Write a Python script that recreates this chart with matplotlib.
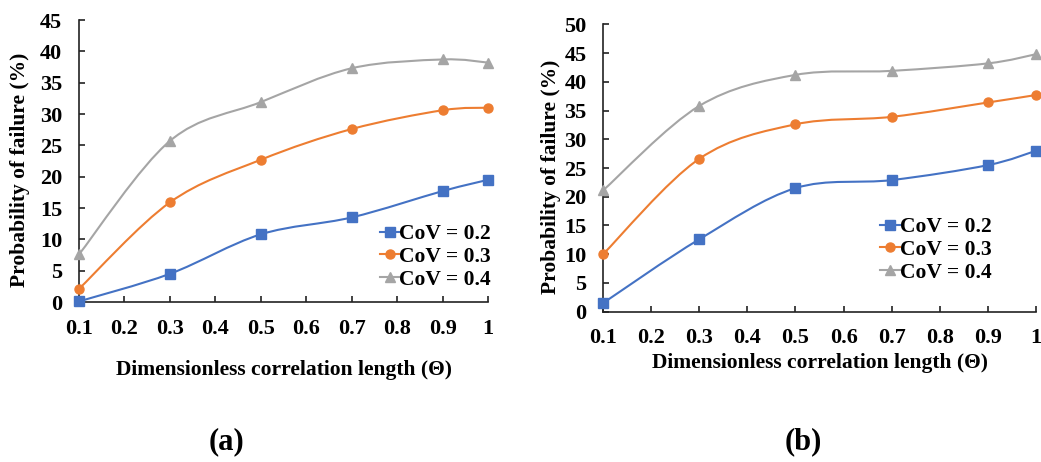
import matplotlib
matplotlib.use("Agg")
import matplotlib.pyplot as plt
from matplotlib.path import Path
from matplotlib.patches import PathPatch
from matplotlib.lines import Line2D

plt.rcParams["font.family"] = ["Liberation Serif", "DejaVu Serif"]
plt.rcParams["font.weight"] = "bold"

# Dimensionless correlation length values
theta = [0.1, 0.3, 0.5, 0.7, 0.9, 1.0]
xticks = [0.1, 0.2, 0.3, 0.4, 0.5, 0.6, 0.7, 0.8, 0.9, 1.0]
xticklabels = ["0.1", "0.2", "0.3", "0.4", "0.5", "0.6", "0.7", "0.8", "0.9", "1"]

# Probability of failure (%) – panel (a)
pf_a_cov02 = [0.1, 4.5, 10.8, 13.5, 17.7, 19.5]
pf_a_cov03 = [2.1, 15.9, 22.7, 27.6, 30.6, 31.0]
pf_a_cov04 = [7.6, 25.7, 31.9, 37.3, 38.7, 38.2]

# Probability of failure (%) – panel (b)
pf_b_cov02 = [1.5, 12.6, 21.5, 22.9, 25.5, 28.0]
pf_b_cov03 = [10.0, 26.6, 32.6, 33.9, 36.4, 37.7]
pf_b_cov04 = [21.1, 35.8, 41.2, 41.9, 43.2, 44.8]

labels = ["CoV = 0.2", "CoV = 0.3", "CoV = 0.4"]
colors = ["#4472C4", "#ED7D31", "#A5A5A5"]
markers = ["s", "o", "^"]


def smooth_path(xs, ys):
    """Cubic Bezier path through the points (spreadsheet-style smoothed line)."""
    pts = list(zip(xs, ys))
    n = len(pts)
    verts = [pts[0]]
    codes = [Path.MOVETO]
    for i in range(n - 1):
        p0 = pts[i - 1] if i > 0 else pts[i]
        p1 = pts[i]
        p2 = pts[i + 1]
        p3 = pts[i + 2] if i + 2 < n else pts[i + 1]
        c1 = (p1[0] + (p2[0] - p0[0]) / 6.0, p1[1] + (p2[1] - p0[1]) / 6.0)
        c2 = (p2[0] - (p3[0] - p1[0]) / 6.0, p2[1] - (p3[1] - p1[1]) / 6.0)
        verts += [c1, c2, p2]
        codes += [Path.CURVE4] * 3
    return Path(verts, codes)


def draw_panel(ax, series, ymax, legend_anchor, xlabel_pos, ylabel_pos):
    handles = []
    for ys, lab, col, mk in zip(series, labels, colors, markers):
        ms = 6.5 if mk != "^" else 7
        patch = PathPatch(smooth_path(theta, ys), facecolor="none",
                          edgecolor=col, lw=1.5, clip_on=False, zorder=3)
        ax.add_patch(patch)
        ax.plot(theta, ys, linestyle="none", marker=mk, ms=ms,
                color=col, clip_on=False, zorder=4)
        handles.append(Line2D([], [], color=col, lw=1.5, marker=mk,
                              ms=ms, label=lab))
    ax.set_xlim(0.1, 1.0)
    ax.set_ylim(0, ymax)
    ax.set_xticks(xticks)
    ax.set_xticklabels(xticklabels)
    ax.set_yticks(range(0, ymax + 1, 5))
    for s in ("top", "right"):
        ax.spines[s].set_visible(False)
    for s in ("left", "bottom"):
        ax.spines[s].set_linewidth(1.2)
        ax.spines[s].set_color("#222222")
    ax.tick_params(direction="in", length=4, width=1.2, color="#222222",
                   labelsize=16)
    ax.tick_params(axis="y", pad=12)
    ax.tick_params(axis="x", pad=12)
    ax.set_ylabel("Probability of failure (%)", fontsize=15.5,
                  fontweight="bold")
    ax.set_xlabel("Dimensionless correlation length (\u0398)", fontsize=15.5,
                  fontweight="bold")
    ax.xaxis.label.set_va("center")
    ax.yaxis.label.set_va("center")
    ax.xaxis.set_label_coords(*xlabel_pos)
    ax.yaxis.set_label_coords(*ylabel_pos)
    ax.legend(handles=handles, loc="center left",
              bbox_to_anchor=legend_anchor, frameon=False,
              fontsize=15.5, handlelength=0.9, handletextpad=0.0,
              labelspacing=0.12, borderpad=0, borderaxespad=0)


fig = plt.figure(figsize=(10.41, 4.62), dpi=100)
ax_a = fig.add_axes([0.0759, 0.3463, 0.3929, 0.6104])
ax_b = fig.add_axes([0.5793, 0.3253, 0.4159, 0.6221])

draw_panel(ax_a, [pf_a_cov02, pf_a_cov03, pf_a_cov04], 45, (0.736, 0.16),
           (0.5, -0.241), (-0.144, 0.468))
draw_panel(ax_b, [pf_b_cov02, pf_b_cov03, pf_b_cov04], 50, (0.64, 0.215),
           (0.5, -0.1785), (-0.12, 0.469))

fig.text(226 / 1041, 1 - 442 / 462, "(a)", ha="center", va="center",
         fontsize=22, fontweight="bold")
fig.text(803 / 1041, 1 - 442 / 462, "(b)", ha="center", va="center",
         fontsize=22, fontweight="bold")

fig.savefig("out.png", dpi=100)
